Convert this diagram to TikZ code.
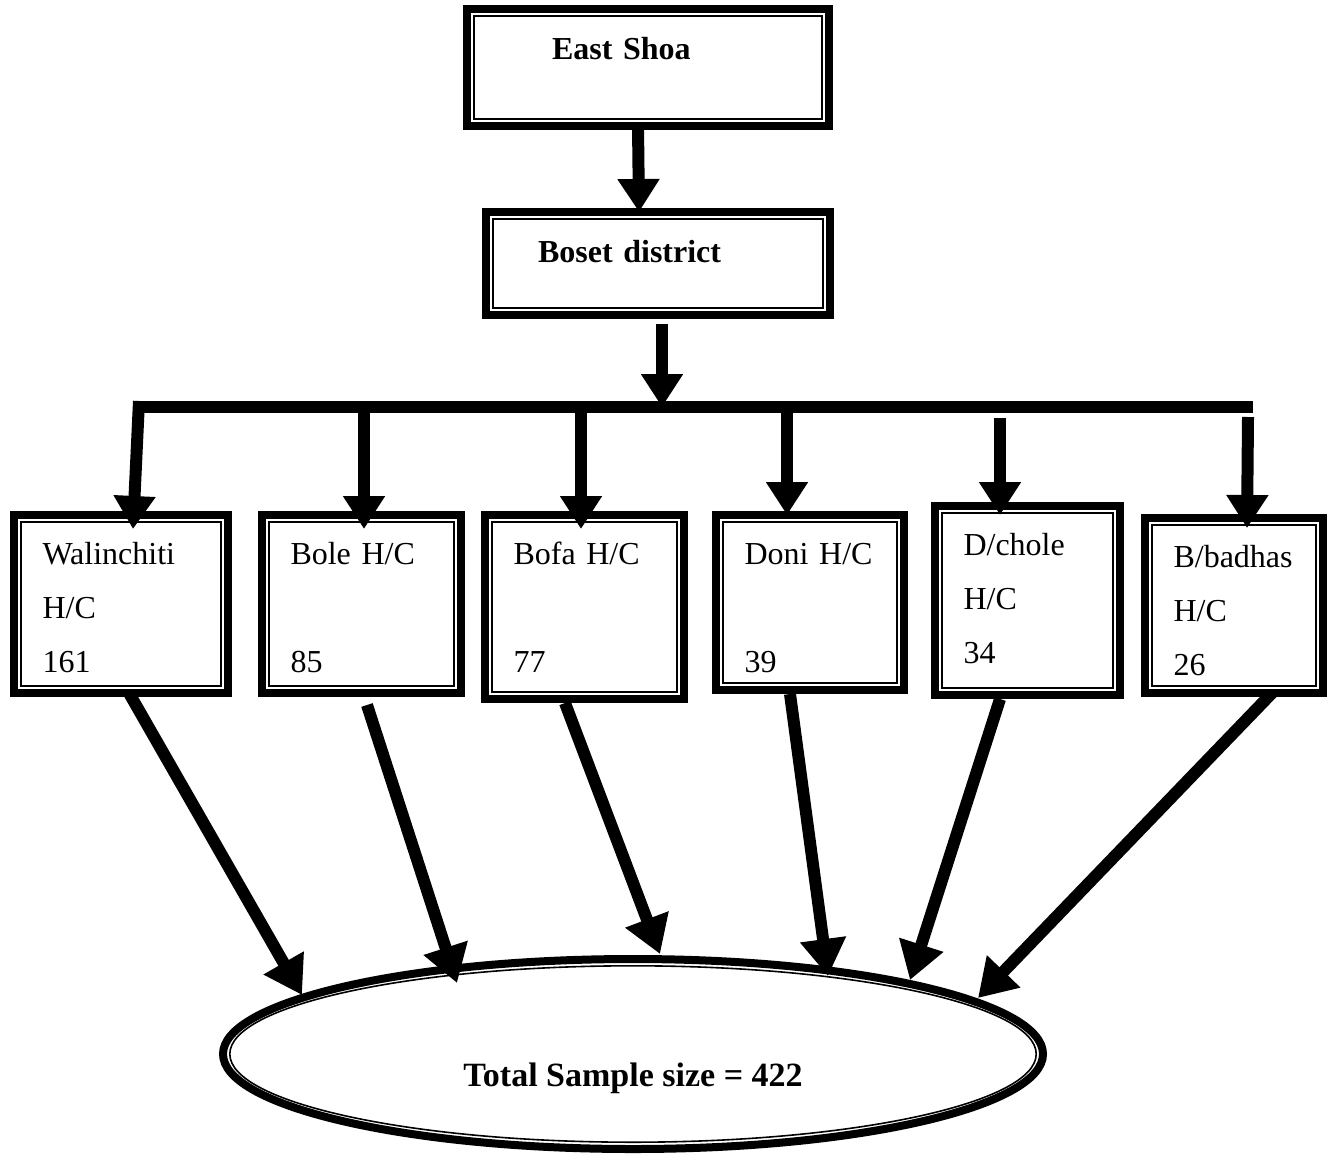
\documentclass[tikz,border=0pt]{standalone}
\usepackage{fontspec}
\setmainfont{Liberation Serif}
\usetikzlibrary{arrows.meta,shapes.geometric}

\begin{document}
\begin{tikzpicture}[
          x=0.5pt, y=-0.5pt,
          frame/.style   = {draw, line width=4pt, outer sep=0pt,
                            path picture={\draw[line width=0.8pt]
                              ([shift={(3.4pt,3.4pt)}]path picture bounding box.south west) rectangle
                              ([shift={(-3.4pt,-3.4pt)}]path picture bounding box.north east);}},
          topbox/.style  = {frame, align=left, inner ysep=0pt,
                            font=\fontsize{16}{27}\selectfont\bfseries},
          hcbox/.style 2 args = {frame, align=left, text width=#1, text depth=#2,
                            text height=24.5pt, inner xsep=14.25pt, inner ysep=0pt,
                            font=\fontsize{16}{27}\selectfont},
          total/.style   = {ellipse, draw, line width=4pt, inner sep=0pt, outer sep=0pt,
                            minimum width=410pt, minimum height=95pt,
                            text height=32pt, text depth=0pt,
                            font=\fontsize{17}{27}\selectfont\bfseries,
                            path picture={\draw[line width=0.8pt] (path picture bounding box.center)
                              ellipse [x radius=201.6pt, y radius=44.1pt];}},
          arr/.style     = {line width=6pt, -{Triangle[width=20pt,length=16.5pt]}},
          bigarr/.style  = {line width=6pt, -{Triangle[width=22pt,length=18.5pt]}},
          bar/.style     = {line width=6pt}
        ]
        \useasboundingbox (0,0) rectangle (1336,1156);

        % --- top of the tree
        \node[topbox, text width=96pt, inner xsep=42.5pt, text height=25.5pt, text depth=33pt]
              (shoa)  at (648,67.5)  {East Shoa};
        \node[topbox, text width=120pt, inner xsep=26pt, text height=25pt, text depth=26.5pt]
              (boset) at (658,263.5) {Boset district};

        % --- health centres
        \node[hcbox={78.5pt}{64.5pt}] (wal)     at (121,604)     {Walinchiti\\H/C\\161};
        \node[hcbox={71pt}{64.5pt}]   (bole)    at (361.5,604)   {Bole H/C\\[27pt]85};
        \node[hcbox={71pt}{67.5pt}]   (bofa)    at (584.5,607)   {Bofa H/C\\[27pt]77};
        \node[hcbox={65.5pt}{63pt}]   (doni)    at (810,602.5)   {Doni H/C\\[27pt]39};
        \node[hcbox={64pt}{70pt}]     (dchole)  at (1027.5,600.5) {D/chole\\H/C\\34};
        \node[hcbox={60.5pt}{63pt}]   (bbadhas) at (1234,605.5)  {B/badhas\\H/C\\26};

        % --- total
        \node[total] (tot) at (633,1054) {Total Sample size = 422};

        % --- the split bar and where the drops leave it
        \coordinate (barL) at (133,407);
        \coordinate (barR) at (1253,407);
        \coordinate (barM) at (662,407);
        \coordinate (d1) at (139,401);
        \coordinate (d2) at (364,407);
        \coordinate (d3) at (581,407);
        \coordinate (d4) at (787,407);
        \coordinate (d5) at (1000,418);
        \coordinate (d6) at (1248,417);

        \draw[arr] ([shift={(-10,0)}]shoa.south) -- ([shift={(-19,0)}]boset.north);
        \draw[arr] ([shift={(4,9)}]boset.south) -- (barM);
        \draw[bar] (barL) -- (barR);

        \draw[arr] (d1) -- ([shift={(12,14)}]wal.north);
        \draw[arr] (d2) -- ([shift={(2.5,14)}]bole.north);
        \draw[arr] (d3) -- ([shift={(-3.5,14)}]bofa.north);
        \draw[arr] (d4) -- ([shift={(-23,0)}]doni.north);
        \draw[arr] (d5) -- ([shift={(-27.5,9)}]dchole.north);
        \draw[arr] (d6) -- ([shift={(13,10)}]bbadhas.north);

        % --- into the total
        \draw[bigarr] ([shift={(8,0)}]wal.south)        -- ([shift={(-331,-59)}]tot.center);
        \draw[bigarr] ([shift={(5.5,12)}]bole.south)    -- ([shift={(-176,-71)}]tot.center);
        \draw[bigarr] ([shift={(-19.5,4)}]bofa.south)   -- ([shift={(27,-100)}]tot.center);
        \draw[bigarr] ([shift={(-20,4)}]doni.south)     -- ([shift={(195,-78)}]tot.center);
        \draw[bigarr] ([shift={(-27.5,4)}]dchole.south) -- ([shift={(277,-74)}]tot.center);
        \draw[bigarr] ([shift={(38,0)}]bbadhas.south)   -- ([shift={(345,-56)}]tot.center);
    \end{tikzpicture}
\end{document}
